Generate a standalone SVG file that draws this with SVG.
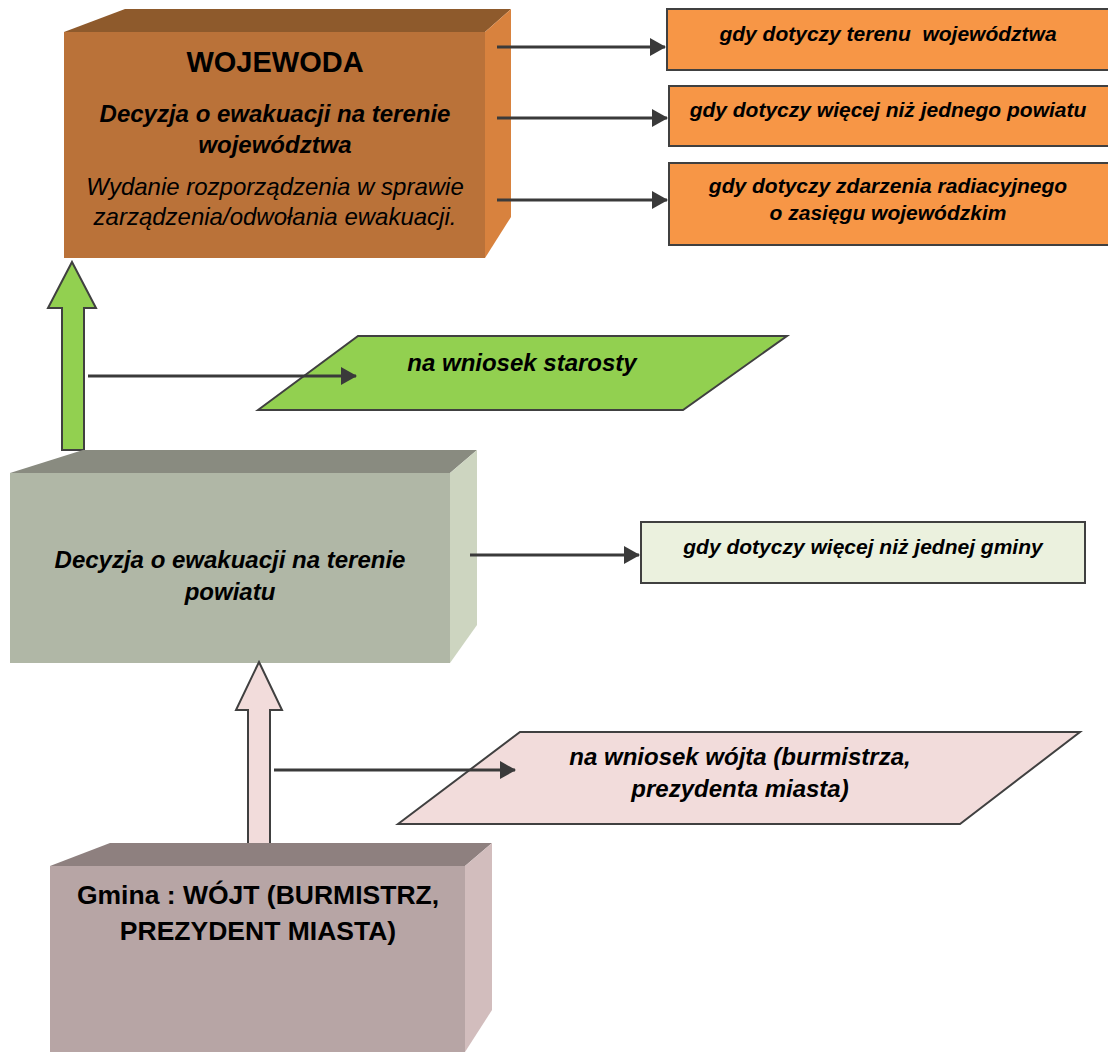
<svg xmlns="http://www.w3.org/2000/svg" width="1108" height="1052" viewBox="0 0 1108 1052">
<defs>
<marker id="ah" viewBox="0 0 16 18" refX="15" refY="9" markerWidth="16" markerHeight="18" markerUnits="userSpaceOnUse" orient="auto">
<path d="M0,0 L16,9 L0,18 Z" fill="#3a3a3a"/>
</marker>
<style>
.t{font-family:"Liberation Sans",Arial,sans-serif;fill:#000;text-anchor:middle}
.bi{font-weight:bold;font-style:italic}
.b{font-weight:bold}
.i{font-style:italic}
.pre{white-space:pre}
.conn{stroke:#3a3a3a;stroke-width:3;fill:none;marker-end:url(#ah)}
.box{stroke:#404040;stroke-width:2}
.blk{stroke:#404040;stroke-width:2}
</style>
</defs>
<rect width="1108" height="1052" fill="#fff"/>

<g id="wojewoda">
<polygon points="64,32 125,9 511,9 485,32" fill="#8E5A2C"/>
<polygon points="485,32 511,9 511,217 485,258" fill="#D8823E"/>
<rect x="64" y="32" width="421" height="226" fill="#BA7239"/>
<text class="t b" x="275" y="72" font-size="29">WOJEWODA</text>
<text class="t bi" x="275" y="122" font-size="24">Decyzja o ewakuacji na terenie</text>
<text class="t bi" x="275" y="153" font-size="24">województwa</text>
<text class="t i" x="275" y="195" font-size="24">Wydanie rozporządzenia w sprawie</text>
<text class="t i" x="275" y="225" font-size="24">zarządzenia/odwołania ewakuacji.</text>
</g>

<g id="cond1">
<rect class="box" x="667" y="9" width="445" height="61" fill="#F79646"/>
<text class="t bi pre" x="888" y="41" font-size="21" xml:space="preserve">gdy dotyczy terenu  województwa</text>
</g>
<g id="cond2">
<rect class="box" x="669" y="86" width="443" height="60" fill="#F79646"/>
<text class="t bi" x="888" y="117" font-size="21">gdy dotyczy więcej niż jednego powiatu</text>
</g>
<g id="cond3">
<rect class="box" x="669" y="163" width="443" height="82" fill="#F79646"/>
<text class="t bi" x="888" y="193" font-size="21">gdy dotyczy zdarzenia radiacyjnego</text>
<text class="t bi" x="888" y="220" font-size="21">o zasięgu wojewódzkim</text>
</g>

<g id="arrow-green">
<polygon class="blk" points="72,262 96,308 84,308 84,450 62,450 62,308 48,308" fill="#92D050"/>
</g>

<g id="starosta">
<polygon class="box" points="258,410 358,336 787,336 683,410" fill="#92D050" stroke-width="2.5"/>
<text class="t bi" x="522" y="371" font-size="24">na wniosek starosty</text>
</g>

<g id="powiat">
<polygon points="10,473 83,450 477,450 450,473" fill="#898B80"/>
<polygon points="450,473 477,450 477,625 450,663" fill="#CDD5C0"/>
<rect x="10" y="473" width="440" height="190" fill="#B0B7A6"/>
<text class="t bi" x="230" y="568" font-size="24">Decyzja o ewakuacji na terenie</text>
<text class="t bi" x="230" y="600" font-size="24">powiatu</text>
</g>

<g id="cond4">
<rect class="box" x="641" y="522" width="444" height="61" fill="#EBF1DE"/>
<text class="t bi" x="863" y="554" font-size="21">gdy dotyczy więcej niż jednej gminy</text>
</g>

<g id="arrow-pink">
<polygon class="blk" points="259,662 282,710 270,710 270,852 248,852 248,710 236,710" fill="#F2DCDB"/>
</g>

<g id="wojt">
<polygon class="box" points="398,824 520,732 1080,732 960,824" fill="#F2DCDB" stroke-width="2.5"/>
<text class="t bi" x="740" y="765" font-size="24">na wniosek wójta (burmistrza,</text>
<text class="t bi" x="740" y="797" font-size="24">prezydenta miasta)</text>
</g>

<g id="gmina">
<polygon points="50,866 110,843 492,843 465,866" fill="#8E807F"/>
<polygon points="465,866 492,843 492,1010 465,1052" fill="#D2BDBD"/>
<rect x="50" y="866" width="415" height="186" fill="#B7A5A5"/>
<text class="t b" x="258" y="904" font-size="26.5">Gmina : WÓJT (BURMISTRZ,</text>
<text class="t b" x="258" y="940" font-size="26.5">PREZYDENT MIASTA)</text>
</g>

<g id="connectors">
<line class="conn" x1="497" y1="47" x2="665" y2="47"/>
<line class="conn" x1="497" y1="118" x2="667" y2="118"/>
<line class="conn" x1="497" y1="200" x2="667" y2="200"/>
<line class="conn" x1="88" y1="376" x2="356" y2="376"/>
<line class="conn" x1="470" y1="555" x2="639" y2="555"/>
<line class="conn" x1="274" y1="770" x2="515" y2="770"/>
</g>
</svg>
